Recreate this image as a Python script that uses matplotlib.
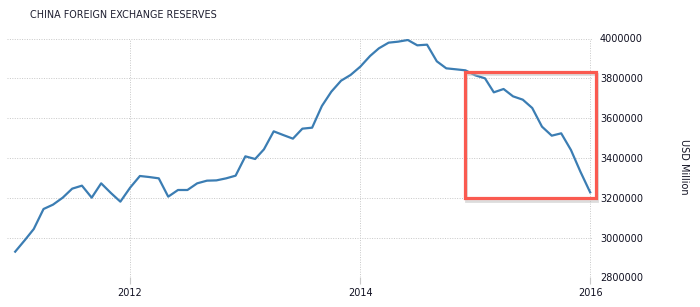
import matplotlib
matplotlib.use("Agg")
import matplotlib.pyplot as plt
import matplotlib.dates as mdates
from matplotlib.patches import Rectangle
import pandas as pd
import datetime as dt

# Monthly China foreign exchange reserves (USD million), Jan 2011 - Jan 2016
months = pd.date_range("2011-01-01", "2016-01-01", freq="MS")
reserves = [
    2928800, 2987500, 3042700, 3143200, 3165000, 3200200, 3245400, 3260500, 3200200, 3272200, 3223600, 3180100,
    3250400, 3309100, 3304000, 3297300, 3205200, 3238700, 3238700, 3272200, 3285600, 3287000, 3297300, 3310700,
    3407900, 3394500, 3443100, 3533500, 3515100, 3496700, 3546900, 3551900, 3660800, 3732800, 3788100, 3816600,
    3858500, 3912100, 3950600, 3979100, 3984100, 3992500, 3965700, 3969000, 3885300, 3850100, 3845100, 3840000,
    3814900, 3799800, 3729500, 3746200, 3709400, 3692600, 3650800, 3557000, 3511700, 3523500, 3439700, 3330800,
    3227000,
]
x_ticks = [dt.date(2012, 1, 1), dt.date(2014, 1, 1), dt.date(2016, 1, 1)]
x_tick_labels = ["2012", "2014", "2016"]
y_ticks = [2800000, 3000000, 3200000, 3400000, 3600000, 3800000, 4000000]
title = "CHINA FOREIGN EXCHANGE RESERVES"
y_unit = "USD Million"

# highlighted region (data coordinates)
hl_start, hl_end = dt.date(2014, 12, 1), dt.date(2016, 1, 19)
hl_low, hl_high = 3197000, 3833000

plt.rcParams['font.family'] = ['DejaVu Sans']
fig = plt.figure(figsize=(7.0, 3.07), dpi=100)
ax = fig.add_axes([7 / 700, (307 - 277.3) / 307, 586 / 700, (277.3 - 38.5) / 307])

ax.plot(months, reserves, color="#3b7db3", lw=1.6, solid_joinstyle="round", zorder=3)

ax.set_xlim(mdates.date2num(dt.date(2010, 12, 6)), mdates.date2num(dt.date(2016, 1, 10)))
ax.set_ylim(2800000, 4000000)

ax.set_xticks([mdates.date2num(d) for d in x_ticks])
ax.set_xticklabels(x_tick_labels)
ax.set_yticks(y_ticks)
ax.set_yticklabels([str(v) for v in y_ticks])
ax.yaxis.tick_right()

for s in ax.spines.values():
    s.set_visible(False)

ax.grid(True, axis="both", color="#c8c8c8", linestyle=(0, (1, 1.5)), linewidth=0.7)
ax.tick_params(axis="x", length=5, color="#c8c8c8", width=0.8, labelsize=7, labelcolor="#111122", pad=2.5)
ax.tick_params(axis="y", length=0, labelsize=7, labelcolor="#111122", pad=5)

# highlight box (with faint shadow)
x0 = mdates.date2num(hl_start)
x1 = mdates.date2num(hl_end)
shadow = Rectangle((x0 + 3, hl_low - 12000), x1 - x0, hl_high - hl_low, fill=False,
                   edgecolor="#bbbbbb", lw=2.0, alpha=0.5, clip_on=False, zorder=3.5)
ax.add_patch(shadow)
rect = Rectangle((x0, hl_low), x1 - x0, hl_high - hl_low, fill=False,
                 edgecolor="#fa5a50", lw=2.3, clip_on=False, zorder=4)
ax.add_patch(rect)

fig.text(30 / 700, 1 - 15 / 307, title, fontsize=6.9, color="#1e1e30", va="center", ha="left")
fig.text(684 / 700, 1 - 167 / 307, y_unit, fontsize=7, color="#111122", rotation=-90,
         va="center", ha="center")

fig.savefig("out.png", dpi=100)
